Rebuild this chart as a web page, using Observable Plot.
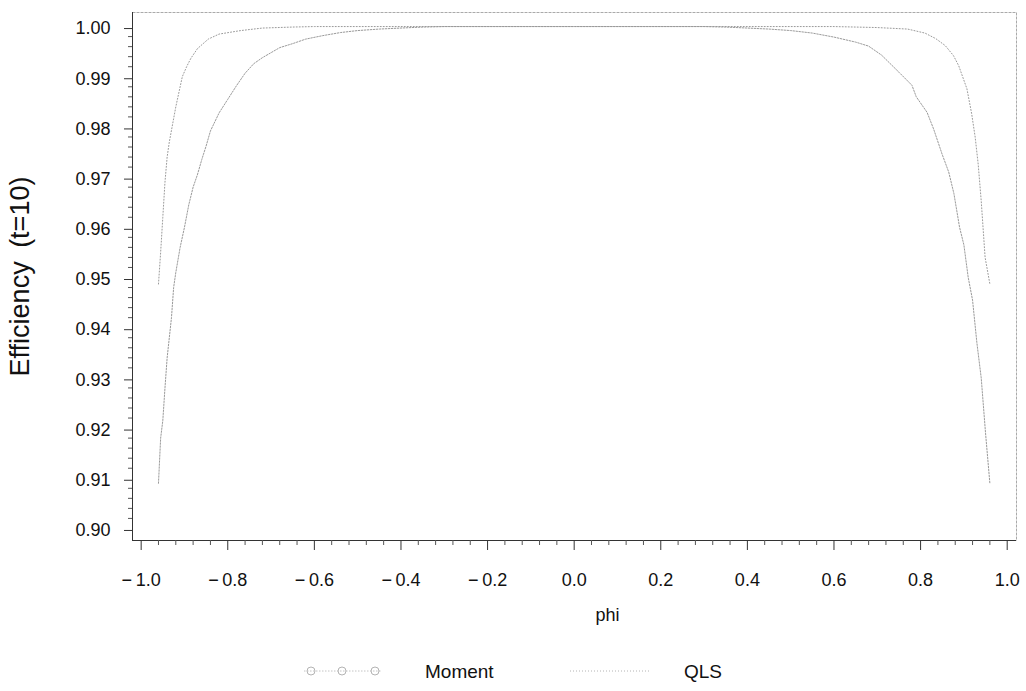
<!DOCTYPE html>
<html>
<head>
<meta charset="utf-8">
<script src="https://cdn.jsdelivr.net/npm/d3@7"></script>
<script src="https://cdn.jsdelivr.net/npm/@observablehq/plot@0.6"></script>
<style>
  body { margin: 0; background: #fff; font-family: "Liberation Sans", Arial, sans-serif; }
  #wrap { width: 1026px; }
  #legend { width: 1026px; height: 46px; display: block; }
</style>
</head>
<body>
<div id="wrap"></div>
<script>
// ---- data ----
const seriesNames = ["Moment", "QLS"];

const phiMoment = [-0.96, -0.955, -0.95, -0.945, -0.94, -0.935, -0.93, -0.925, -0.92, -0.91, -0.90, -0.89, -0.88, -0.87, -0.86, -0.85, -0.84, -0.82, -0.80, -0.78, -0.76, -0.74, -0.72, -0.70, -0.68, -0.65, -0.62, -0.58, -0.54, -0.50, -0.45, -0.40, -0.35, -0.30, 0.0, 0.30, 0.35, 0.40, 0.45, 0.50, 0.55, 0.60, 0.65, 0.68, 0.71, 0.75, 0.78, 0.79, 0.815, 0.83, 0.85, 0.865, 0.877, 0.89, 0.90, 0.91, 0.92, 0.93, 0.94, 0.95, 0.96];
const effMoment = [0.909, 0.918, 0.9215, 0.928, 0.934, 0.938, 0.942, 0.948, 0.951, 0.956, 0.960, 0.9645, 0.968, 0.9705, 0.9735, 0.9762, 0.9792, 0.9828, 0.9855, 0.9882, 0.9907, 0.9926, 0.9938, 0.9948, 0.9958, 0.9966, 0.9975, 0.9982, 0.9988, 0.9992, 0.9995, 0.9997, 0.9999, 1.0, 1.0, 1.0, 0.9999, 0.9997, 0.9995, 0.9992, 0.9987, 0.9979, 0.9969, 0.9961, 0.9943, 0.9909, 0.9883, 0.9860, 0.9829, 0.9796, 0.9745, 0.971, 0.9667, 0.960, 0.9565, 0.950, 0.9455, 0.937, 0.930, 0.919, 0.909];

const phiQLS = [-0.96, -0.955, -0.95, -0.945, -0.94, -0.935, -0.92, -0.905, -0.895, -0.885, -0.87, -0.845, -0.82, -0.77, -0.72, -0.65, -0.60, 0.0, 0.60, 0.70, 0.77, 0.81, 0.835, 0.857, 0.876, 0.888, 0.907, 0.918, 0.926, 0.933, 0.94, 0.949, 0.96];
const effQLS = [0.9487, 0.955, 0.962, 0.969, 0.974, 0.977, 0.984, 0.990, 0.992, 0.9937, 0.9956, 0.9975, 0.9985, 0.9992, 0.9997, 0.9999, 1.0, 1.0, 1.0, 0.9998, 0.9995, 0.9987, 0.9976, 0.9962, 0.9942, 0.9922, 0.9876, 0.9826, 0.978, 0.9726, 0.9653, 0.954, 0.9487];

const xTicks = [-1.0, -0.8, -0.6, -0.4, -0.2, 0.0, 0.2, 0.4, 0.6, 0.8, 1.0];
const yTicks = [0.90, 0.91, 0.92, 0.93, 0.94, 0.95, 0.96, 0.97, 0.98, 0.99, 1.00];
const xLabel = "phi";
const yLabel = "Efficiency\u2002(t=10)";

// ---- build ----
const moment = phiMoment.map((p, i) => ({phi: p, eff: effMoment[i], series: seriesNames[0]}));
const qls = phiQLS.map((p, i) => ({phi: p, eff: effQLS[i], series: seriesNames[1]}));

const xDomain = [-1.020, 1.0215];
const yDomain = [0.8976, 1.0028];

const xMinor = d3.range(-1.0, 1.0001, 0.04).map(v => +v.toFixed(2)).filter(v => !xTicks.some(t => Math.abs(t - v) < 1e-6));
const yMinor = d3.range(0.90, 1.0001, 0.002).map(v => +v.toFixed(3)).filter(v => !yTicks.some(t => Math.abs(t - v) < 1e-6));

const fmtX = d => (d < -1e-9 ? "\u2212\u2009" : "") + Math.abs(d).toFixed(1);
const fmtY = d => d.toFixed(2);

const chart = Plot.plot({
  width: 1026,
  height: 645,
  marginLeft: 132,
  marginRight: 10,
  marginTop: 12,
  marginBottom: 105,
  style: {fontFamily: "'Liberation Sans', Arial, sans-serif", fontSize: "18px", color: "#111", background: "#fff"},
  x: {domain: xDomain, axis: null},
  y: {domain: yDomain, axis: null},
  marks: [
    Plot.frame({stroke: "#aaa", strokeWidth: 1, strokeDasharray: "3,1"}),
    Plot.ruleX([xDomain[0]], {stroke: "#333", strokeWidth: 1}),
    Plot.ruleY([yDomain[0]], {stroke: "#333", strokeWidth: 1}),
    Plot.axisX(xTicks, {anchor: "bottom", tickSize: 10, tickPadding: 23, tickFormat: fmtX, label: null, stroke: "#333"}),
    Plot.axisX(xMinor, {anchor: "bottom", tickSize: 5, tickFormat: () => "", label: null, stroke: "#555"}),
    Plot.axisY(yTicks, {anchor: "left", tickSize: 8, tickPadding: 14, tickFormat: fmtY, label: null, stroke: "#333", dy: 2}),
    Plot.axisY(yMinor, {anchor: "left", tickSize: 4, tickFormat: () => "", label: null, stroke: "#555"}),
    Plot.line(moment, {x: "phi", y: "eff", stroke: "#9a9a9a", strokeWidth: 1, strokeDasharray: "1.5,1.5"}),
    Plot.line(qls, {x: "phi", y: "eff", stroke: "#9a9a9a", strokeWidth: 1, strokeDasharray: "1,2"}),
    Plot.text([xLabel], {text: d => d, frameAnchor: "bottom", dx: 33, dy: 80, fontSize: 18, fill: "#111"}),
    Plot.text([yLabel], {text: d => d, frameAnchor: "left", textAnchor: "middle", dx: -112, dy: 0, rotate: -90, fontSize: 27, fill: "#111", ariaLabel: "ytitle"})
  ]
});

d3.select(chart).selectAll('g[aria-label="ytitle"] text').attr("letter-spacing", "1.5px");

document.getElementById("wrap").appendChild(chart);

// ---- legend (below the plot) ----
const lg = d3.select("#wrap").append("svg").attr("id", "legend").attr("width", 1026).attr("height", 46);
lg.append("line").attr("x1", 304).attr("x2", 382).attr("y1", 26).attr("y2", 26)
  .attr("stroke", "#c4c4c4").attr("stroke-width", 1).attr("stroke-dasharray", "1.5,1.5");
[311, 342, 375].forEach(cx => lg.append("circle").attr("cx", cx).attr("cy", 26).attr("r", 4)
  .attr("fill", "none").attr("stroke", "#b4b4b4").attr("stroke-width", 1));
lg.append("text").attr("x", 425).attr("y", 33).attr("font-size", 19).attr("fill", "#111").text(seriesNames[0]);
lg.append("line").attr("x1", 570).attr("x2", 650).attr("y1", 26).attr("y2", 26)
  .attr("stroke", "#b4b4b4").attr("stroke-width", 1).attr("stroke-dasharray", "1,2");
lg.append("text").attr("x", 684).attr("y", 33).attr("font-size", 19).attr("fill", "#111").text(seriesNames[1]);
</script>
</body>
</html>
